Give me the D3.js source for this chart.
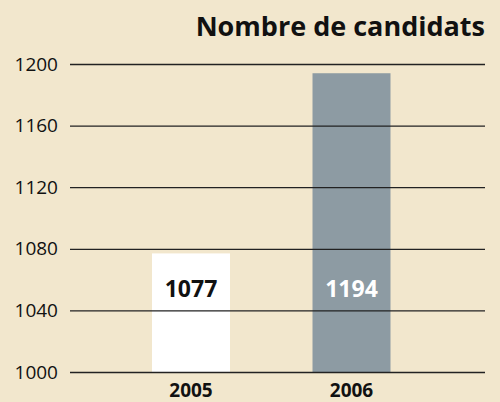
<!DOCTYPE html>
<html>
<head>
<meta charset="utf-8">
<script src="https://cdn.jsdelivr.net/npm/d3@7"></script>
<style>
  html, body { margin: 0; padding: 0; background: #f2e7cd; }
  svg { display: block; font-family: "Open Sans", sans-serif; }
</style>
</head>
<body>
<svg width="500" height="402"></svg>
<script>
const years = ['2005', '2006'];
const candidats = [1077, 1194];
const yTicks = [1000, 1040, 1080, 1120, 1160, 1200];
const barColors = ['#ffffff', '#8d9ba3'];
const labelColors = ['#111111', '#ffffff'];

const svg = d3.select('svg');
const width = +svg.attr('width');
const height = +svg.attr('height');

const data = years.map((y, i) => ({ year: y, value: candidats[i] }));

svg.append('rect')
    .attr('width', width)
    .attr('height', height)
    .attr('fill', '#f2e7cd');

const xScale = d3.scaleBand()
    .domain(years)
    .range([110.75, 431.75])
    .paddingInner(0.514)
    .paddingOuter(0.257);

const yScale = d3.scaleLinear()
    .domain([1000, 1200])
    .range([372, 64]);

// bars
svg.selectAll('rect.bar').data(data)
    .enter().append('rect')
    .attr('class', 'bar')
    .attr('x', d => xScale(d.year))
    .attr('y', d => yScale(d.value))
    .attr('width', xScale.bandwidth())
    .attr('height', d => yScale(1000) - yScale(d.value))
    .attr('fill', (d, i) => barColors[i]);

// grid lines drawn over the bars
const yAxis = d3.axisLeft(yScale)
    .tickValues(yTicks)
    .tickSize(-(485 - 70))
    .tickPadding(12)
    .tickFormat(d3.format('d'));

const yAxisG = svg.append('g')
    .attr('transform', 'translate(70, 0)')
    .call(yAxis);

yAxisG.select('.domain').remove();
yAxisG.selectAll('.tick line')
    .attr('stroke', '#222')
    .attr('stroke-width', 1.3);
yAxisG.selectAll('.tick text')
    .attr('fill', '#111')
    .style('font-size', '19px')
    .style('font-family', '"Open Sans", sans-serif');

// value labels
svg.selectAll('text.value').data(data)
    .enter().append('text')
    .attr('class', 'value')
    .attr('x', d => xScale(d.year) + xScale.bandwidth() / 2)
    .attr('y', 297)
    .attr('text-anchor', 'middle')
    .attr('font-weight', 'bold')
    .attr('font-size', '23px')
    .attr('fill', (d, i) => labelColors[i])
    .text(d => d.value);

// year labels
svg.selectAll('text.year').data(data)
    .enter().append('text')
    .attr('class', 'year')
    .attr('x', d => xScale(d.year) + xScale.bandwidth() / 2)
    .attr('y', 397)
    .attr('text-anchor', 'middle')
    .attr('font-weight', 'bold')
    .attr('font-size', '19px')
    .attr('fill', '#111')
    .text(d => d.year);

svg.append('text')
    .attr('x', 485)
    .attr('y', 36)
    .attr('text-anchor', 'end')
    .attr('font-weight', 'bold')
    .attr('font-size', '27px')
    .attr('fill', '#111')
    .text('Nombre de candidats');
</script>
</body>
</html>
